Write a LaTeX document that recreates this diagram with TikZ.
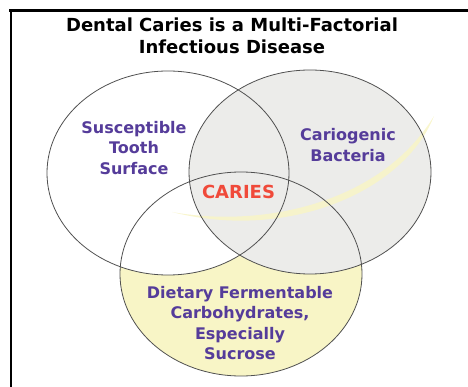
\documentclass[tikz,border=0pt]{standalone}
\usepackage{fontspec}
\setmainfont{DejaVu Sans}
\usepackage{xcolor}
\definecolor{labelPurple}{HTML}{553C9A}
\definecolor{cariesRed}{HTML}{F04A3A}
\definecolor{sugarYellow}{HTML}{F8F5C6}
\definecolor{germGrey}{HTML}{ECECEA}
\definecolor{edgeGrey}{HTML}{505050}

\begin{document}
\begin{tikzpicture}[
  x=1pt, y=-1pt,
  set/.style={draw=edgeGrey, line width=0.8pt},
  frameline/.style={draw=black, line width=2.4pt},
  factor/.style={font=\fontsize{16}{20.5}\selectfont\bfseries, text=labelPurple, align=center},
  heading/.style={font=\fontsize{18}{22}\selectfont\bfseries, align=center}
]
\useasboundingbox (0,0) rectangle (468,387);
\def\rx{121}
\def\ry{102}
% the three factors
\fill[sugarYellow] (241,274) ellipse [x radius=\rx, y radius=\ry];
\fill[white] (168,173) ellipse [x radius=\rx, y radius=\ry];
\fill[germGrey] (310,172) ellipse [x radius=\rx, y radius=\ry];
\fill[sugarYellow, opacity=0.85]
  (172,212) .. controls (260,228) and (380,205) .. (434,116)
  .. controls (405,190) and (290,242) .. (172,212) -- cycle;
\draw[set] (168,173) ellipse [x radius=\rx, y radius=\ry];
\draw[set] (310,172) ellipse [x radius=\rx, y radius=\ry];
\draw[set] (241,274) ellipse [x radius=\rx, y radius=\ry];

\draw[frameline] (9,10.5) -- (468,10.5);
\draw[frameline] (11,9.3) -- (11,387);

\node[heading] (title) at (232,36) {Dental Caries is a Multi-Factorial\\Infectious Disease};
\node[factor] (tooth) at (134,148) {Susceptible\\Tooth\\Surface};
\node[factor] (bacteria) at (348,145) {Cariogenic\\Bacteria};
\node[factor] (diet) at (240,323) {Dietary Fermentable\\Carbohydrates,\\Especially\\Sucrose};
\node[font=\fontsize{18}{22}\selectfont\bfseries, text=cariesRed] (caries) at (238.5,192) {CARIES};
\end{tikzpicture}
\end{document}
